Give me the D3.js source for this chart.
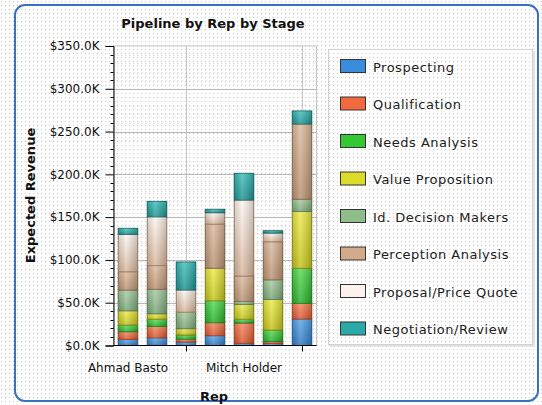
<!DOCTYPE html>
<html>
<head>
<meta charset="utf-8">
<script src="https://cdn.jsdelivr.net/npm/d3@7/dist/d3.min.js"></script>
<style>
  html, body { margin: 0; padding: 0; background: #ffffff; }
  svg { display: block; }
  text { font-family: "DejaVu Sans", Verdana, sans-serif; }
</style>
</head>
<body>
<svg id="chart" width="542" height="405"></svg>
<script>
// Pipeline values in thousands of dollars, one array per sales stage, one entry per rep
const stages = [
  "Prospecting", "Qualification", "Needs Analysis", "Value Proposition",
  "Id. Decision Makers", "Perception Analysis", "Proposal/Price Quote", "Negotiation/Review"
];
const repLabels = ["Ahmad Basto", "", "", "", "Mitch Holder", "", ""];

const prospecting        = [7.2, 9.0, 4.1, 11.5, 2.6, 2.6, 31.0];
const qualification      = [8.9, 13.4, 3.3, 15.2, 23.7, 2.1, 18.3];
const needsAnalysis      = [7.8, 8.2, 4.9, 25.6, 4.4, 13.3, 40.9];
const valueProposition   = [16.7, 6.5, 7.4, 38.0, 17.2, 35.8, 66.4];
const idDecisionMakers   = [24.2, 28.6, 19.3, 0, 3.6, 23.0, 14.4];
const perceptionAnalysis = [21.4, 27.7, 0, 51.5, 29.7, 44.4, 87.9];
const proposalPriceQuote = [43.7, 57.0, 25.9, 13.4, 88.8, 10.2, 0];
const negotiationReview  = [7.0, 18.0, 32.7, 4.0, 31.2, 2.7, 15.2];

const yTicks = [0, 50, 100, 150, 200, 250, 300, 350];

const seriesValues = [prospecting, qualification, needsAnalysis, valueProposition,
  idDecisionMakers, perceptionAnalysis, proposalPriceQuote, negotiationReview];

// Swatch colours and the top/bottom shades used inside the bars
const stageColors = ["#3b8ddb", "#f0693f", "#34c934", "#dcdc28", "#8fbd8b", "#d3ab8a", "#fcf2eb", "#2aaba9"];
const barTop      = ["#5aa6ea", "#f7875f", "#55dc55", "#ecec4a", "#a6cda2", "#dcbb9e", "#fdf6f1", "#3fc0bd"];
const barBottom   = ["#2f78c0", "#d9552d", "#27ae27", "#c2c21c", "#78a574", "#b99170", "#d6b59c", "#1f9290"];
const barStroke   = ["#24609c", "#a8401f", "#1d861d", "#8e8e12", "#5d7f5a", "#8c6a4d", "#a88466", "#176e6c"];

const rows = d3.range(repLabels.length).map(i => {
  const r = { idx: i };
  stages.forEach((s, k) => { r[s] = seriesValues[k][i]; });
  return r;
});

const svg = d3.select("#chart");
const defs = svg.append("defs");

// light dotted texture
const pat = defs.append("pattern").attr("id", "dots")
  .attr("width", 4).attr("height", 4).attr("patternUnits", "userSpaceOnUse");
pat.append("rect").attr("width", 4).attr("height", 4).attr("fill", "#ffffff");
pat.append("rect").attr("x", 1).attr("y", 1).attr("width", 1).attr("height", 1).attr("fill", "#c9c9c9");

stages.forEach((s, k) => {
  const g = defs.append("linearGradient").attr("id", "bar" + k)
    .attr("x1", 0).attr("y1", 0).attr("x2", 0).attr("y2", 1);
  g.append("stop").attr("offset", "0%").attr("stop-color", barTop[k]);
  g.append("stop").attr("offset", "100%").attr("stop-color", barBottom[k]);
});
const sheen = defs.append("linearGradient").attr("id", "sheen")
  .attr("x1", 0).attr("y1", 0).attr("x2", 1).attr("y2", 0);
sheen.append("stop").attr("offset", "0%").attr("stop-color", "#000").attr("stop-opacity", 0.14);
sheen.append("stop").attr("offset", "40%").attr("stop-color", "#fff").attr("stop-opacity", 0.18);
sheen.append("stop").attr("offset", "100%").attr("stop-color", "#000").attr("stop-opacity", 0.2);

// page background and rounded frame
svg.append("rect").attr("width", 542).attr("height", 405).attr("fill", "url(#dots)");
svg.append("rect").attr("x", 15).attr("y", 5).attr("width", 523).attr("height", 396)
  .attr("rx", 10).attr("ry", 10)
  .attr("fill", "none").attr("stroke", "#3a6fc6").attr("stroke-width", 2);

const plot = { left: 113.5, right: 316.5, top: 46, bottom: 345.5 };

const x = d3.scaleBand().domain(d3.range(repLabels.length))
  .range([plot.left, plot.right]).paddingInner(0.293).paddingOuter(0.1465);
const y = d3.scaleLinear().domain([0, 350]).range([plot.bottom, plot.top]);

// plot frame and gridlines
svg.append("rect").attr("x", plot.left).attr("y", plot.top)
  .attr("width", plot.right - plot.left).attr("height", plot.bottom - plot.top)
  .attr("fill", "none").attr("stroke", "#c4c4c4");

const minor = d3.range(10, 350, 10).filter(v => v % 50 !== 0);
svg.append("g").selectAll("line").data(minor).join("line")
  .attr("x1", plot.left).attr("x2", plot.right)
  .attr("y1", d => Math.round(y(d)) + 0.5).attr("y2", d => Math.round(y(d)) + 0.5)
  .attr("stroke", "#d4d4d4").attr("stroke-dasharray", "1,3");

svg.append("g").selectAll("line").data(yTicks.filter(v => v > 0 && v < 350)).join("line")
  .attr("x1", plot.left).attr("x2", plot.right)
  .attr("y1", d => Math.round(y(d)) + 0.5).attr("y2", d => Math.round(y(d)) + 0.5)
  .attr("stroke", "#b8b8b8");

const tickIdx = [2, 6];
svg.append("g").selectAll("line").data(tickIdx).join("line")
  .attr("x1", d => Math.round(x(d) + x.bandwidth() / 2) + 0.5)
  .attr("x2", d => Math.round(x(d) + x.bandwidth() / 2) + 0.5)
  .attr("y1", plot.top).attr("y2", plot.bottom)
  .attr("stroke", "#c8c8c8");

// stacked bars
const stacked = d3.stack().keys(stages)(rows);
const layers = svg.append("g").selectAll("g").data(stacked).join("g");
layers.each(function(layer, k) {
  const segs = layer.filter(d => d[1] - d[0] > 0);
  const g = d3.select(this);
  g.selectAll("rect.seg").data(segs).join("rect").attr("class", "seg")
    .attr("x", d => x(d.data.idx) + 0.5)
    .attr("y", d => y(d[1]))
    .attr("width", x.bandwidth() - 1)
    .attr("height", d => y(d[0]) - y(d[1]))
    .attr("fill", "url(#bar" + k + ")")
    .attr("stroke", barStroke[k]).attr("stroke-width", 1);
  g.selectAll("rect.shade").data(segs).join("rect").attr("class", "shade")
    .attr("x", d => x(d.data.idx) + 0.5)
    .attr("y", d => y(d[1]))
    .attr("width", x.bandwidth() - 1)
    .attr("height", d => y(d[0]) - y(d[1]))
    .attr("fill", "url(#sheen)");
});

// y axis with major and minor ticks
const yAxis = d3.axisLeft(y).tickValues(yTicks).tickSize(8).tickPadding(6)
  .tickFormat(d => "$" + d.toFixed(1) + "K");
const ya = svg.append("g").attr("transform", `translate(${plot.left},0)`).call(yAxis);
ya.select(".domain").attr("stroke", "#000");
ya.selectAll(".tick line").attr("stroke", "#000");
ya.selectAll(".tick text").attr("font-size", 12).attr("fill", "#111")
  .attr("font-family", "DejaVu Sans, sans-serif");
svg.append("g").selectAll("line").data(minor).join("line")
  .attr("x1", plot.left - 3).attr("x2", plot.left)
  .attr("y1", d => Math.round(y(d)) + 0.5).attr("y2", d => Math.round(y(d)) + 0.5)
  .attr("stroke", "#000");

// x axis: labels for every fourth rep, ticks offset by two
const xa = svg.append("g").attr("transform", `translate(0,${plot.bottom})`);
xa.append("line").attr("x1", plot.left).attr("x2", plot.right).attr("stroke", "#000");
xa.selectAll("line.tk").data(tickIdx).join("line").attr("class", "tk")
  .attr("x1", d => Math.round(x(d) + x.bandwidth() / 2) + 0.5)
  .attr("x2", d => Math.round(x(d) + x.bandwidth() / 2) + 0.5)
  .attr("y1", 0).attr("y2", 6).attr("stroke", "#000");
xa.selectAll("text").data(d3.range(repLabels.length).filter(i => repLabels[i])).join("text")
  .attr("x", d => x(d) + x.bandwidth() / 2)
  .attr("y", 26)
  .attr("text-anchor", "middle").attr("font-size", 12).attr("fill", "#111")
  .text(d => repLabels[d]);

// titles
svg.append("text").attr("x", 213).attr("y", 28).attr("text-anchor", "middle")
  .attr("font-size", 13).attr("font-weight", "bold").attr("fill", "#111")
  .text("Pipeline by Rep by Stage");
svg.append("text").attr("x", 214).attr("y", 401).attr("text-anchor", "middle")
  .attr("font-size", 13).attr("font-weight", "bold").attr("fill", "#111")
  .text("Rep");
svg.append("text").attr("transform", "translate(35,195.5) rotate(-90)")
  .attr("text-anchor", "middle").attr("font-size", 13).attr("font-weight", "bold").attr("fill", "#111")
  .text("Expected Revenue");

// legend
const lg = svg.append("g");
lg.append("rect").attr("x", 330).attr("y", 51).attr("width", 205).attr("height", 296)
  .attr("fill", "#e2e2e2");
lg.append("rect").attr("x", 328.5).attr("y", 49.5).attr("width", 204).attr("height", 295)
  .attr("fill", "url(#dots)").attr("stroke", "#d2d2d2");
const items = lg.selectAll("g.item").data(stages).join("g").attr("class", "item")
  .attr("transform", (d, i) => `translate(0,${i * 37.5})`);
items.append("rect").attr("x", 340.5).attr("y", 59.5).attr("width", 25).attr("height", 13)
  .attr("fill", (d, i) => stageColors[i]).attr("stroke", "#333");
items.append("text").attr("x", 373).attr("y", 71.5)
  .attr("font-size", 13).attr("letter-spacing", 0.5).attr("fill", "#222")
  .text(d => d);
</script>
</body>
</html>
